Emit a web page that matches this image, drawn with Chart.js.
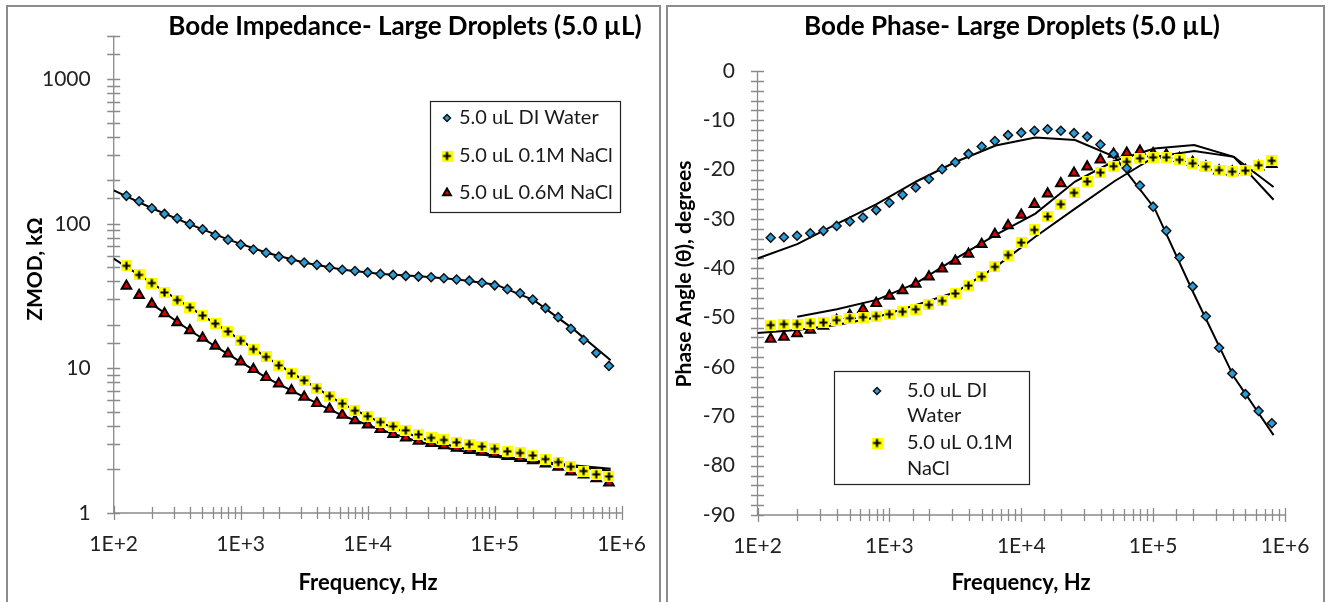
<!DOCTYPE html>
<html>
<head>
<meta charset="utf-8">
<script src="https://cdn.jsdelivr.net/npm/chart.js@4.4.1/dist/chart.umd.min.js"></script>
<style>
  html, body { margin: 0; padding: 0; background: #fff; }
  body { width: 1330px; height: 602px; position: relative; overflow: hidden; }
  .panel { position: absolute; top: 5px; height: 640px; border: 2px solid #8c8c8c; box-sizing: border-box; }
  #leftPanel { left: 6px; width: 655px; }
  #rightPanel { left: 666px; width: 659px; }
  canvas { position: absolute; top: 0; }
  #bodeZ { left: 0; }
  #bodePhase { left: 665px; }
</style>
</head>
<body>
<div class="panel" id="leftPanel"></div>
<div class="panel" id="rightPanel"></div>
<canvas id="bodeZ" width="665" height="602"></canvas>
<canvas id="bodePhase" width="665" height="602"></canvas>
<script>
// Measured frequencies (10 per decade) and fit frequencies
const freqData = [125.9, 158.5, 199.5, 251.2, 316.2, 398.1, 501.2, 631.0, 794.3,
  1000, 1259, 1585, 1995, 2512, 3162, 3981, 5012, 6310, 7943,
  10000, 12589, 15849, 19953, 25119, 31623, 39811, 50119, 63096, 79433,
  100000, 125893, 158489, 199526, 251189, 316228, 398107, 501187, 630957, 794328];
const freqFit = [100, 200, 400, 800, 1600, 3200, 6400, 12800, 25600, 51200, 102400, 204800, 409600, 819200];

// Impedance, kOhm
const zDI = [156, 143, 128, 117, 109, 99.5, 91.5, 83.4, 77.6, 71.8,
  66.4, 63.0, 59.2, 56.2, 53.9, 52.0, 49.9, 48.1, 47.1, 46.1,
  45.0, 44.3, 43.6, 43.1, 42.7, 42.0, 41.2, 40.4, 39.1, 37.5,
  35.3, 33.1, 29.9, 26.1, 22.6, 18.8, 15.7, 12.8, 10.4];
const z01 = [51.2, 44.3, 38.9, 33.5, 29.7, 26.4, 23.2, 20.4, 18.0, 15.5,
  13.6, 12.0, 10.5, 9.25, 8.26, 7.29, 6.44, 5.71, 5.10, 4.67,
  4.25, 3.97, 3.73, 3.49, 3.31, 3.20, 3.08, 2.99, 2.88, 2.78,
  2.67, 2.60, 2.50, 2.36, 2.25, 2.09, 1.95, 1.85, 1.79];
const z06 = [37.1, 32.1, 27.9, 24.0, 20.8, 18.3, 16.2, 14.3, 12.6, 11.1,
  9.85, 8.69, 7.83, 7.03, 6.34, 5.74, 5.23, 4.76, 4.36, 4.07,
  3.79, 3.51, 3.31, 3.15, 3.03, 2.93, 2.81, 2.72, 2.64, 2.56,
  2.47, 2.39, 2.31, 2.19, 2.08, 1.93, 1.84, 1.73, 1.62];
const zFitDI = [170, 128, 99, 77.6, 63.0, 53.8, 48.1, 45.0, 43.3, 41.2, 37.9, 29.5, 18.9, 11.4];
const zFit01 = [57.4, 38.8, 26.3, 17.9, 11.9, 8.2, 5.65, 4.2, 3.3, 2.85, 2.5, 2.3, 2.14, 2.02];
const zFit06 = [null, 27.8, 18.2, 12.5, 8.6, 6.3, 4.7, 3.75, 3.1, 2.72, 2.45, 2.25, 2.1, 1.96];

// Phase, degrees
const pDI = [-33.8, -33.7, -33.4, -32.9, -32.4, -31.4, -30.5, -29.7, -28.2, -26.7,
  -25.1, -23.6, -21.9, -19.9, -18.5, -16.8, -15.3, -14.2, -13.0, -12.5,
  -12.1, -11.8, -12.1, -12.6, -13.3, -14.9, -16.8, -19.7, -23.2, -27.5,
  -32.4, -37.8, -43.7, -49.7, -56.1, -61.3, -65.5, -68.9, -71.4];
const p01 = [-51.5, -51.3, -51.3, -51.1, -51.0, -50.5, -50.1, -49.9, -49.7, -49.3,
  -48.8, -48.3, -47.4, -46.6, -45.1, -43.5, -41.7, -39.7, -37.3, -34.8,
  -32.2, -29.5, -27.0, -24.7, -22.4, -20.6, -19.3, -18.4, -17.7, -17.5,
  -17.5, -18.0, -18.7, -19.4, -20.1, -20.4, -20.2, -19.1, -18.2];
const p06 = [-54.3, -53.9, -53.2, -52.5, -51.7, -50.5, -49.5, -48.3, -47.1, -45.6,
  -44.5, -43.2, -41.7, -40.1, -38.5, -37.1, -35.1, -33.1, -31.3, -29.2,
  -27.0, -24.9, -22.8, -20.7, -19.4, -18.0, -16.8, -16.6, -16.2, -16.7,
  -17.0, -17.7, -18.5, -19.4, -20.2, -20.4, -20.1, -19.4, -18.9];
const pFitDI = [-38.0, -35.1, -31.0, -27.0, -22.4, -18.4, -15.1, -13.5, -14.0, -17.4, -27.8, -45.3, -62.0, -73.8];
const pFit01 = [-53.1, -52.5, -51.5, -49.9, -47.4, -44.8, -39.7, -33.6, -27.9, -22.3, -17.4, -16.2, -17.4, -26.1];
const pFit06 = [null, -49.8, -48.3, -46.4, -43.0, -38.0, -33.2, -28.9, -22.4, -18.2, -15.7, -15.0, -17.4, -23.5];

const seriesNames = ['5.0 uL DI Water', '5.0 uL 0.1M NaCl', '5.0 uL 0.6M NaCl'];

const FONT = 'Lato, "Open Sans", sans-serif';
const tickFont = { family: FONT, size: 21 };
const axisGray = '#8a8a8a';

function toPoints(xs, ys) {
    const pts = [];
    for (let i = 0; i < xs.length; i++) {
        if (ys[i] !== null) pts.push({ x: xs[i], y: ys[i] });
    }
    return pts;
}

function isDecade(v) {
    const e = Math.log10(v);
    return Math.abs(e - Math.round(e)) < 1e-6;
}

// yellow square with a black plus, like the Excel marker
function plusMarker() {
    const c = document.createElement('canvas');
    c.width = 11;
    c.height = 11;
    const g = c.getContext('2d');
    g.fillStyle = '#ffff00';
    g.fillRect(0, 0, 11, 11);
    g.strokeStyle = '#000';
    g.lineWidth = 2.2;
    g.beginPath();
    g.moveTo(5.5, 1.5); g.lineTo(5.5, 9.5);
    g.moveTo(1.5, 5.5); g.lineTo(9.5, 5.5);
    g.stroke();
    return c;
}
const plusImg = plusMarker();

function markerSets(ys1, ys2, ys3) {
    return [{
        label: seriesNames[0],
        data: toPoints(freqData, ys1),
        showLine: false,
        pointStyle: 'rectRot',
        pointRadius: 4.5,
        pointBackgroundColor: '#2b9cd8',
        pointBorderColor: '#111',
        pointBorderWidth: 1.5,
    }, {
        label: seriesNames[1],
        data: toPoints(freqData, ys2),
        showLine: false,
        pointStyle: plusImg,
        pointRadius: 5,
        pointBackgroundColor: '#ffff00',
        pointBorderColor: '#000',
        pointBorderWidth: 0,
    }, {
        label: seriesNames[2],
        data: toPoints(freqData, ys3),
        showLine: false,
        pointStyle: 'triangle',
        pointRadius: 5.5,
        pointBackgroundColor: '#e00000',
        pointBorderColor: '#000',
        pointBorderWidth: 2,
    }];
}

function fitSet(ys) {
    return {
        label: 'fit',
        data: toPoints(freqFit, ys),
        showLine: true,
        borderColor: '#000',
        borderWidth: 2,
        pointRadius: 0,
        tension: 0,
    };
}

const panelDecor = {
    id: 'panelDecor',
    beforeDatasetsDraw(chart) {
        const { ctx, chartArea } = chart;
        const xs = chart.scales.x;
        const ys = chart.scales.y;
        ctx.save();
        ctx.strokeStyle = axisGray;
        ctx.lineWidth = 1.3;
        ctx.beginPath();
        ctx.moveTo(chartArea.left, chartArea.top);
        ctx.lineTo(chartArea.left, chartArea.bottom);
        ctx.lineTo(chartArea.right, chartArea.bottom);
        xs.ticks.forEach((t, i) => {
            const px = Math.round(xs.getPixelForTick(i)) + 0.5;
            const h = t.label ? 7 : 6;
            ctx.moveTo(px, chartArea.bottom - h);
            ctx.lineTo(px, chartArea.bottom + h);
        });
        ys.ticks.forEach((t, i) => {
            const py = Math.round(ys.getPixelForTick(i)) + 0.5;
            ctx.moveTo(chartArea.left - 6.5, py);
            ctx.lineTo(chartArea.left + 6.5, py);
        });
        ctx.stroke();
        ctx.restore();
    },
    afterDraw(chart, args, opts) {
        const { ctx } = chart;
        ctx.save();
        ctx.fillStyle = '#000';
        ctx.textAlign = 'center';
        ctx.textBaseline = 'middle';
        opts.texts.forEach((t) => {
            ctx.save();
            ctx.translate(t.x, t.y);
            if (t.rotate) ctx.rotate(-Math.PI / 2);
            ctx.font = t.font;
            ctx.fillText(t.text, 0, 0);
            ctx.restore();
        });

        // legend
        const lg = opts.legend;
        ctx.strokeStyle = '#222';
        ctx.lineWidth = 1.2;
        ctx.strokeRect(lg.box[0] + 0.5, lg.box[1] + 0.5, lg.box[2] - lg.box[0], lg.box[3] - lg.box[1]);
        ctx.font = '20px ' + FONT;
        ctx.textAlign = 'left';
        ctx.fillStyle = '#1a1a1a';
        lg.rows.forEach((lines, k) => {
            const ds = chart.data.datasets[k];
            lines.forEach((txt, j) => ctx.fillText(txt, lg.textX, lg.y[k][j]));
            ctx.save();
            ctx.fillStyle = ds.pointBackgroundColor;
            ctx.strokeStyle = ds.pointBorderColor;
            ctx.lineWidth = ds.pointBorderWidth;
            Chart.helpers.drawPoint(ctx, {
                pointStyle: ds.pointStyle,
                radius: ds.pointRadius - 1,
                borderWidth: ds.pointBorderWidth,
                rotation: 0,
            }, lg.markerX, lg.y[k][0]);
            ctx.restore();
        });
        ctx.restore();
    },
};

function freqAxis(height, pad) {
    return {
        type: 'logarithmic',
        min: 100,
        max: 1e6,
        grid: { display: false, drawTicks: false },
        border: { display: false },
        ticks: {
            autoSkip: false,
            maxRotation: 0,
            padding: pad,
            font: tickFont,
            color: '#222',
            callback: (v) => (isDecade(v) ? `1E+${Math.round(Math.log10(v))}` : ''),
        },
        afterFit: (s) => { s.height = height; },
    };
}

const impedanceChart = new Chart(document.getElementById('bodeZ'), {
    type: 'scatter',
    data: {
        datasets: markerSets(zDI, z01, z06).concat([fitSet(zFitDI), fitSet(zFit01), fitSet(zFit06)]),
    },
    options: {
        responsive: false,
        animation: false,
        events: [],
        layout: { padding: { left: 0, right: 40.5, top: 25, bottom: 0 } },
        scales: {
            x: freqAxis(89, 19),
            y: {
                type: 'logarithmic',
                min: 1,
                max: 2000,
                grid: { display: false, drawTicks: false },
                border: { display: false },
                ticks: {
                    autoSkip: false,
                    padding: 23,
                    font: tickFont,
                    color: '#222',
                    callback: (v) => (isDecade(v) ? String(v) : ''),
                },
                afterFit: (s) => { s.width = 113.7; },
            },
        },
        plugins: {
            legend: { display: false },
            tooltip: { enabled: false },
            panelDecor: {
                texts: [
                    { text: 'Bode Impedance- Large Droplets (5.0 µL)', x: 405, y: 27, font: 'bold 26px ' + FONT },
                    { text: 'ZMOD, kΩ', x: 35, y: 269, rotate: true, font: 'bold 21px ' + FONT },
                    { text: 'Frequency, Hz', x: 368, y: 583, font: 'bold 22px ' + FONT },
                ],
                legend: {
                    box: [430, 101, 620, 212],
                    markerX: 447,
                    textX: 459,
                    rows: [[seriesNames[0]], [seriesNames[1]], [seriesNames[2]]],
                    y: [[118], [156], [193]],
                },
            },
        },
    },
    plugins: [panelDecor],
});

const phaseChart = new Chart(document.getElementById('bodePhase'), {
    type: 'scatter',
    data: {
        datasets: markerSets(pDI, p01, p06).concat([fitSet(pFitDI), fitSet(pFit01), fitSet(pFit06)]),
    },
    options: {
        responsive: false,
        animation: false,
        events: [],
        layout: { padding: { left: 0, right: 45, top: 71, bottom: 0 } },
        scales: {
            x: freqAxis(87, 19),
            y: {
                type: 'linear',
                min: -90,
                max: 0,
                grid: { display: false, drawTicks: false },
                border: { display: false },
                ticks: {
                    autoSkip: false,
                    stepSize: 2,
                    padding: 22.5,
                    font: tickFont,
                    color: '#222',
                    callback: (v) => (v % 10 === 0 ? String(v) : ''),
                },
                afterFit: (s) => { s.width = 92.5; },
            },
        },
        plugins: {
            legend: { display: false },
            tooltip: { enabled: false },
            panelDecor: {
                texts: [
                    { text: 'Bode Phase- Large Droplets (5.0 µL)', x: 347, y: 27, font: 'bold 26px ' + FONT },
                    { text: 'Phase Angle (θ), degrees', x: 19, y: 274, rotate: true, font: 'bold 21px ' + FONT },
                    { text: 'Frequency, Hz', x: 356, y: 583, font: 'bold 22px ' + FONT },
                ],
                legend: {
                    box: [169, 371, 364, 484],
                    markerX: 212,
                    textX: 242,
                    rows: [['5.0 uL DI', 'Water'], ['5.0 uL 0.1M', 'NaCl']],
                    y: [[391, 416], [443, 469]],
                },
            },
        },
    },
    plugins: [panelDecor],
});
</script>
</body>
</html>
